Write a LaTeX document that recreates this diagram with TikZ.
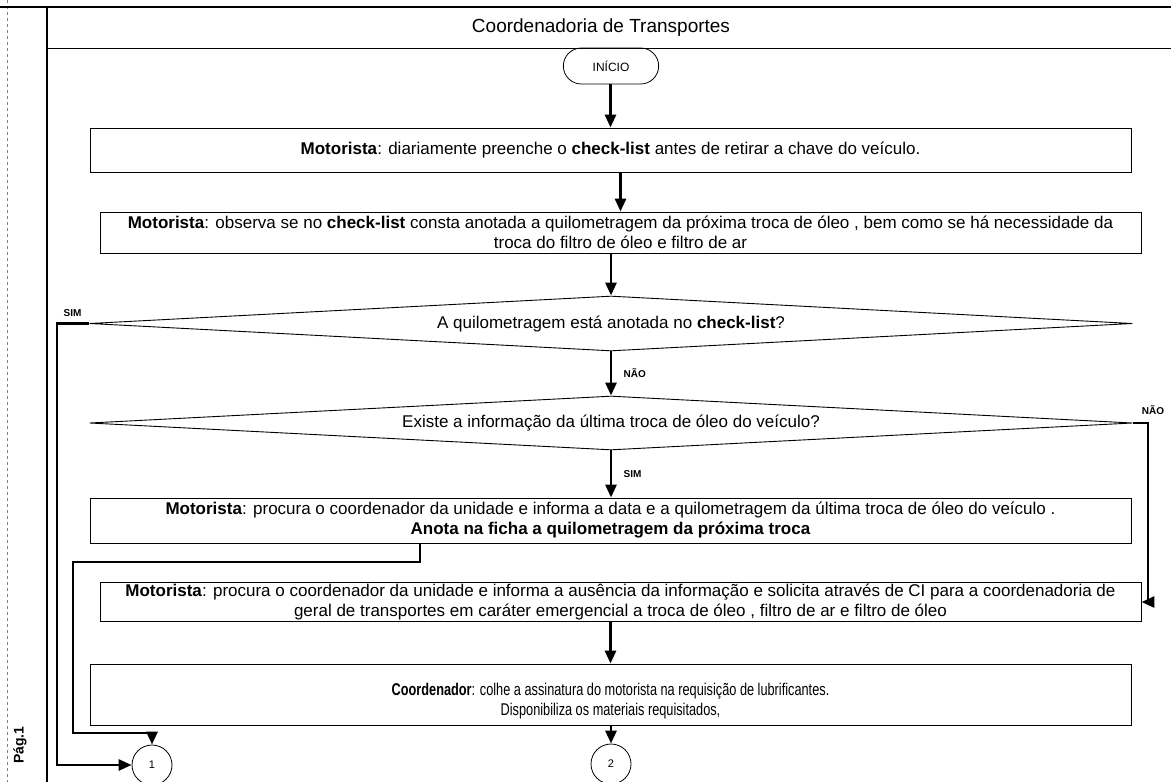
\documentclass[tikz,border=0pt]{standalone}
\usepackage{fontspec}
\setmainfont{Liberation Sans}
\usetikzlibrary{arrows.meta,shapes.geometric,shapes.misc}

\begin{document}
\begin{tikzpicture}[x=1pt,y=-1pt,
		proc/.style={draw,rectangle,minimum width=1041pt,align=center,inner sep=0pt,line width=0.9pt,font=\fontsize{17}{20}\selectfont},
		decis/.style={draw,diamond,aspect=20,minimum width=1043pt,minimum height=55pt,inner sep=0pt,line width=0.9pt,font=\fontsize{17}{19}\selectfont},
		conn/.style={draw,circle,minimum size=40pt,inner sep=0pt,line width=0.8pt,font=\fontsize{11}{12}\selectfont},
		flow/.style={line width=2.8pt,-{Triangle[length=13pt,width=11pt]}},
		lbl/.style={font=\fontsize{10}{11}\selectfont\bfseries}]
	\useasboundingbox (0,0) rectangle (1171,782);
	% moldura da pagina
	\draw[gray,dashed,line width=0.6pt] (7,0) -- (7,782);
	\draw[line width=1.6pt] (0,7) -- (1171,7);
	\draw[line width=1.2pt] (47,7) -- (47,782);
	\draw[line width=1pt] (47,48) -- (1171,48);
	\node[font=\fontsize{19}{21}\selectfont] (raia) at (601,28) {Coordenadoria de Transportes};
	\node[font=\fontsize{14}{15}\selectfont\bfseries,rotate=90] (pag) at (20,745) {Pág.1};

	\node[draw,rounded rectangle,minimum width=102pt,minimum height=36pt,line width=0.8pt,font=\fontsize{12}{13}\selectfont] (ini) at (611,66) {INÍCIO};
	\node[proc,minimum height=44pt] (b1) at (610.5,150) {\textbf{Motorista}: diariamente preenche o \textbf{check-list} antes de retirar a chave do veículo.};
	\node[proc,minimum height=41pt] (b2) at (620.5,232.5) {\textbf{Motorista}: observa se no \textbf{check-list} consta anotada a quilometragem da próxima troca de óleo , bem como se há necessidade da\\troca do filtro de óleo e filtro de ar};
	\node[decis] (d1) at (611,323.5) {A quilometragem está anotada no \textbf{check-list}?};
	\node[decis,minimum height=54pt] (d2) at (611,423) {Existe a informação da última troca de óleo do veículo?};
	\node[proc,minimum height=45pt] (b3) at (610.5,520.5) {\textbf{Motorista}: procura o coordenador da unidade e informa a data e a quilometragem da última troca de óleo do veículo .\\\textbf{Anota na ficha a quilometragem da próxima troca}};
	\node[proc,minimum height=39pt] (b4) at (620.5,602) {\textbf{Motorista}: procura o coordenador da unidade e informa a ausência da informação e solicita através de CI para a coordenadoria de\\geral de transportes em caráter emergencial a troca de óleo , filtro de ar e filtro de óleo};
	\node[proc,minimum height=61pt] (b5) at (610.5,694.5) {\rule{0pt}{26pt}\scalebox{0.75}[1]{\textbf{Coordenador}: colhe a assinatura do motorista na requisição de lubrificantes.}\\\scalebox{0.75}[1]{Disponibiliza os materiais requisitados,}};
	\node[conn] (c1) at (152,765) {1};
	\node[conn] (c2) at (611,764) {2};

	\coordinate (simx) at (57,0);
	\coordinate (naox) at (1148,0);
	\coordinate (k1) at (420,562);
	\coordinate (k2) at (73,733);

	\def\descida {ini/b1, b1/b2, b2/d1, b4/b5, b5/c2}  % setas verticais
	\foreach \u\v in \descida
	{	\draw[flow] (\u.south -| \v.north) -- (\v.north);
	}
	\draw[flow] (d1.south) -- (d2.north) node [lbl, midway, right=8pt] {NÃO};
	\draw[flow] (d2.south) -- (b3.north -| d2.south) node [lbl, midway, right=8pt] {SIM};
	\draw[flow] (d1.west) -- (d1.west -| simx) node [lbl, above right=2pt] {SIM} |- (c1.west);
	\draw[flow] (d2.east) -- (d2.east -| naox) node [lbl, above=4pt, xshift=5pt] {NÃO} |- (b4.east);
	\draw[flow] (b3.south -| k1) -- (k1) -| (k2) -- (k2 -| c1.north) -- (c1.north);
\end{tikzpicture}
\end{document}
